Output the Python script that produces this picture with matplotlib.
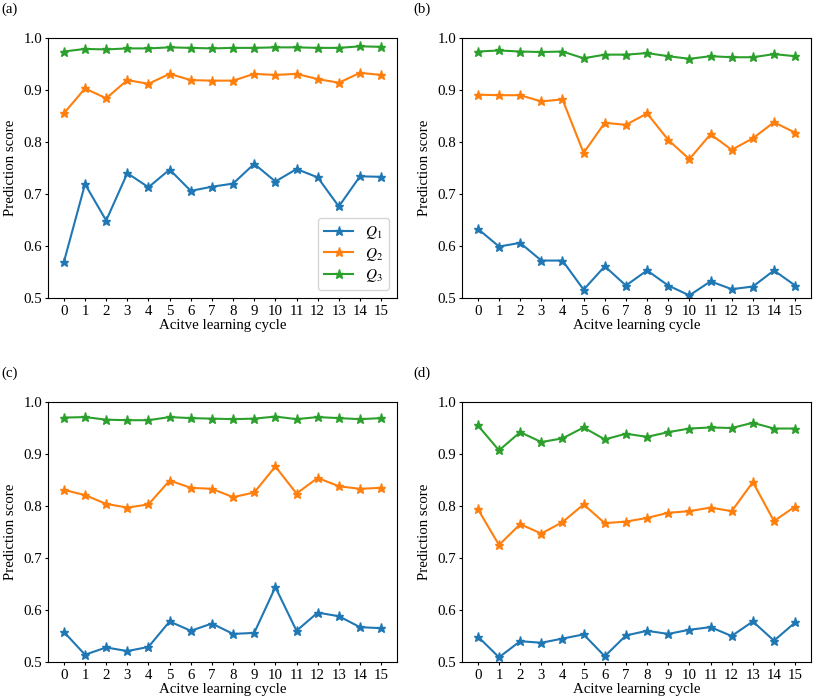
import matplotlib
matplotlib.use("Agg")
import matplotlib.pyplot as plt

plt.rcParams['font.family'] = ['Liberation Serif', 'DejaVu Serif']
plt.rcParams['mathtext.fontset'] = 'stix'
plt.rcParams['font.size'] = 10.7
plt.rcParams['xtick.major.size'] = 2.5
plt.rcParams['ytick.major.size'] = 2.5
plt.rcParams['xtick.major.pad'] = 2.5
plt.rcParams['ytick.major.pad'] = 1.5

cycles = list(range(16))
xtick_labels = [str(c) for c in cycles]
yticks = [0.5, 0.6, 0.7, 0.8, 0.9, 1.0]
ytick_labels = ["0.5", "0.6", "0.7", "0.8", "0.9", "1.0"]
series_names = [r"$Q_1$", r"$Q_2$", r"$Q_3$"]
panel_labels = ["(a)", "(b)", "(c)", "(d)"]

a_q1 = [0.569, 0.719, 0.649, 0.740, 0.713, 0.747, 0.706, 0.714, 0.720, 0.758, 0.724, 0.748, 0.732, 0.676, 0.734, 0.733]
a_q2 = [0.855, 0.903, 0.884, 0.919, 0.912, 0.931, 0.919, 0.918, 0.918, 0.931, 0.929, 0.931, 0.921, 0.914, 0.933, 0.929]
a_q3 = [0.974, 0.979, 0.978, 0.980, 0.980, 0.982, 0.981, 0.980, 0.981, 0.981, 0.982, 0.982, 0.981, 0.981, 0.984, 0.983]

b_q1 = [0.633, 0.599, 0.606, 0.572, 0.572, 0.516, 0.561, 0.524, 0.553, 0.524, 0.505, 0.532, 0.517, 0.522, 0.553, 0.524]
b_q2 = [0.891, 0.890, 0.890, 0.878, 0.882, 0.779, 0.837, 0.833, 0.855, 0.804, 0.767, 0.815, 0.785, 0.807, 0.838, 0.818]
b_q3 = [0.974, 0.976, 0.974, 0.973, 0.974, 0.961, 0.968, 0.968, 0.971, 0.965, 0.960, 0.965, 0.963, 0.963, 0.969, 0.965]

c_q1 = [0.558, 0.514, 0.528, 0.521, 0.529, 0.578, 0.560, 0.574, 0.554, 0.556, 0.644, 0.560, 0.595, 0.588, 0.567, 0.565]
c_q2 = [0.831, 0.821, 0.804, 0.797, 0.803, 0.849, 0.835, 0.833, 0.817, 0.826, 0.876, 0.824, 0.854, 0.838, 0.833, 0.835]
c_q3 = [0.970, 0.971, 0.966, 0.965, 0.965, 0.971, 0.969, 0.968, 0.967, 0.968, 0.972, 0.967, 0.971, 0.969, 0.967, 0.969]

d_q1 = [0.549, 0.509, 0.540, 0.537, 0.545, 0.553, 0.511, 0.551, 0.560, 0.554, 0.562, 0.567, 0.550, 0.578, 0.541, 0.576]
d_q2 = [0.794, 0.725, 0.765, 0.747, 0.769, 0.803, 0.767, 0.770, 0.777, 0.787, 0.790, 0.797, 0.790, 0.846, 0.771, 0.799]
d_q3 = [0.955, 0.907, 0.942, 0.923, 0.930, 0.951, 0.928, 0.939, 0.933, 0.942, 0.949, 0.951, 0.950, 0.960, 0.949, 0.949]

panels = [(a_q1, a_q2, a_q3), (b_q1, b_q2, b_q3), (c_q1, c_q2, c_q3), (d_q1, d_q2, d_q3)]
colors = ['#1f77b4', '#ff7f0e', '#2ca02c']

W, H = 813, 699
fig = plt.figure(figsize=(W / 100, H / 100), dpi=100)

# axes boxes in pixels: left, right, top, bottom
boxes = [(48, 397, 38, 298), (462, 811, 38, 298), (48, 397, 402, 662), (462, 811, 402, 662)]
label_pos = [(1, 9), (413, 9), (1, 373), (413, 373)]

for i, (data, box) in enumerate(zip(panels, boxes)):
    l, r, t, b = box
    ax = fig.add_axes([l / W, 1 - b / H, (r - l) / W, (b - t) / H])
    for vals, c, name in zip(data, colors, series_names):
        ax.plot(cycles, vals, marker='*', color=c, label=name, markersize=6.5, linewidth=1.5)
    ax.set_ylim(0.5, 1.0)
    ax.set_yticks(yticks)
    ax.set_yticklabels(ytick_labels)
    ax.set_xticks(cycles)
    ax.set_xticklabels(xtick_labels)
    ax.set_xlabel("Acitve learning cycle", labelpad=1)
    ax.set_ylabel("Prediction score", labelpad=5)
    if i == 0:
        ax.legend(loc='lower right', fontsize=11, labelspacing=0.3, handlelength=1.9)
    lx, ly = label_pos[i]
    fig.text(lx / W, 1 - ly / H, panel_labels[i], ha='left', va='center', fontsize=10.7)

fig.savefig("out.png", dpi=100)
